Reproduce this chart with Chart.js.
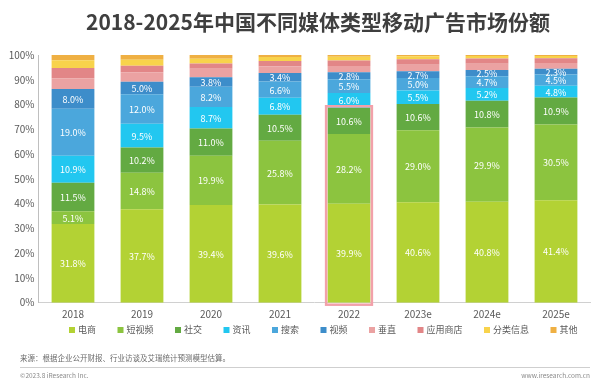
<!DOCTYPE html>
<html>
<head>
<meta charset="utf-8">
<script src="https://cdn.jsdelivr.net/npm/chart.js@4/dist/chart.umd.min.js"></script>
<style>
html,body{margin:0;padding:0;background:#fff;}
#wrap{position:relative;width:600px;height:382px;}
</style>
</head>
<body>
<div id="wrap"><canvas id="c" width="600" height="382"></canvas></div>
<script>
const titleText = '2018-2025年中国不同媒体类型移动广告市场份额';
const categories = ['2018','2019','2020','2021','2022','2023e','2024e','2025e'];
const seriesNames = ['电商','短视频','社交','资讯','搜索','视频','垂直','应用商店','分类信息','其他'];
const ecommerce  = [31.8,37.7,39.4,39.6,39.9,40.6,40.8,41.4];
const shortVideo = [5.1,14.8,19.9,25.8,28.2,29.0,29.9,30.5];
const social     = [11.5,10.2,11.0,10.5,10.6,10.6,10.8,10.9];
const news       = [10.9,9.5,8.7,6.8,6.0,5.5,5.2,4.8];
const search     = [19.0,12.0,8.2,6.6,5.5,5.0,4.7,4.5];
const video      = [8.0,5.0,3.8,3.4,2.8,2.7,2.5,2.3];
const vertical   = [4.3,3.8,3.4,2.7,2.6,2.7,2.6,2.4];
const appStore   = [4.2,2.7,2.2,2.2,2.2,2.2,2.1,1.9];
const classified = [3.1,2.4,1.9,1.6,1.5,1.2,1.0,0.9];
const others     = [2.1,1.9,1.5,0.8,0.7,0.5,0.4,0.4];
const yTicks = [0,10,20,30,40,50,60,70,80,90,100];
const highlightIndex = 4;
const highlightSeriesCount = 3;
const labeledSeriesCount = 6;
const sourceText = '来源：根据企业公开财报、行业访谈及艾瑞统计预测模型估算。';
const copyrightText = '©2023.8 iResearch Inc.';
const siteText = 'www.iresearch.com.cn';

const seriesData = [ecommerce, shortVideo, social, news, search, video, vertical, appStore, classified, others];
const colors = ['#b3d234','#8cc43f','#63aa42','#22c7f0','#4ba7dc','#3d8dca','#eba2a2','#e28687','#f8d34b','#efb043'];
const FONT = '"Noto Sans CJK SC","Noto Sans",sans-serif';

const datasets = seriesData.map((d,i)=>({
  label: seriesNames[i],
  data: d,
  backgroundColor: colors[i],
  borderWidth: 0,
  barPercentage: 0.62,
  categoryPercentage: 1.0
}));

const decorPlugin = {
  id: 'decor',
  afterDatasetsDraw(chart){
    const ctx = chart.ctx;
    ctx.save();
    ctx.fillStyle = '#ffffff';
    ctx.font = '9px ' + FONT;
    ctx.textAlign = 'center';
    ctx.textBaseline = 'middle';
    for(let di=0; di<labeledSeriesCount; di++){
      const meta = chart.getDatasetMeta(di);
      meta.data.forEach((el,idx)=>{
        const v = chart.data.datasets[di].data[idx];
        const cy = (el.y + el.base)/2;
        ctx.fillText(v.toFixed(1)+'%', el.x, cy + 0.5);
      });
    }
    ctx.restore();
    const topMeta = chart.getDatasetMeta(highlightSeriesCount-1);
    const botMeta = chart.getDatasetMeta(0);
    const elTop = topMeta.data[highlightIndex];
    const elBot = botMeta.data[highlightIndex];
    const half = elTop.width/2;
    ctx.save();
    ctx.strokeStyle = '#f2a1aa';
    ctx.lineWidth = 2.5;
    const x0 = elTop.x - half - 1.5, x1 = elTop.x + half + 1.5;
    const y0 = elTop.y - 1.5, y1 = elBot.base + 2;
    ctx.strokeRect(x0, y0, x1-x0, y1-y0);
    ctx.restore();
  },
  afterDraw(chart){
    const ctx = chart.ctx;
    ctx.save();
    ctx.fillStyle = '#3f3f3f';
    ctx.font = 'bold 21px ' + FONT;
    ctx.textAlign = 'center';
    ctx.textBaseline = 'middle';
    ctx.fillText(titleText, 318, 22);
    ctx.font = '9px ' + FONT;
    ctx.textAlign = 'left';
    let x = 69;
    const ly = 330;
    seriesNames.forEach((n,i)=>{
      ctx.fillStyle = colors[i];
      ctx.fillRect(x, ly-3, 6, 6);
      ctx.fillStyle = '#595959';
      ctx.fillText(n, x+9, ly);
      x += 9 + ctx.measureText(n).width + 21.5;
    });
    ctx.fillStyle = '#6b6b6b';
    ctx.font = '7.5px ' + FONT;
    ctx.fillText(sourceText, 20, 358);
    ctx.strokeStyle = '#cfcfcf';
    ctx.lineWidth = 1;
    ctx.beginPath(); ctx.moveTo(20, 367.5); ctx.lineTo(590, 367.5); ctx.stroke();
    ctx.fillStyle = '#8a8a8a';
    ctx.font = '6.5px ' + FONT;
    ctx.fillText(copyrightText, 20, 376);
    ctx.textAlign = 'right';
    ctx.fillText(siteText, 590, 376);
    ctx.restore();
  }
};

new Chart(document.getElementById('c'), {
  type: 'bar',
  data: { labels: categories, datasets },
  options: {
    responsive: false,
    animation: false,
    devicePixelRatio: 1,
    layout: { padding: { left: 0, right: 9.5, top: 55, bottom: 0 } },
    plugins: { legend: { display: false }, tooltip: { enabled: false }, title: { display: false } },
    scales: {
      x: {
        stacked: true,
        grid: { display: false, drawTicks: false },
        border: { display: true, color: '#d0d0d0', width: 1 },
        ticks: { color: '#595959', font: { size: 10, family: FONT }, padding: 6 },
        afterFit(s){ s.height = 382 - 302.7; }
      },
      y: {
        stacked: true,
        min: 0, max: 100,
        afterBuildTicks(s){ s.ticks = yTicks.map(v=>({value:v})); },
        grid: { display: false, drawTicks: false },
        border: { display: true, color: '#bfbfbf', width: 1 },
        ticks: { color: '#595959', font: { size: 10, family: FONT }, padding: 4, callback: v => v + '%' },
        afterFit(s){ s.width = 38.5; }
      }
    }
  },
  plugins: [decorPlugin]
});
</script>
</body>
</html>
